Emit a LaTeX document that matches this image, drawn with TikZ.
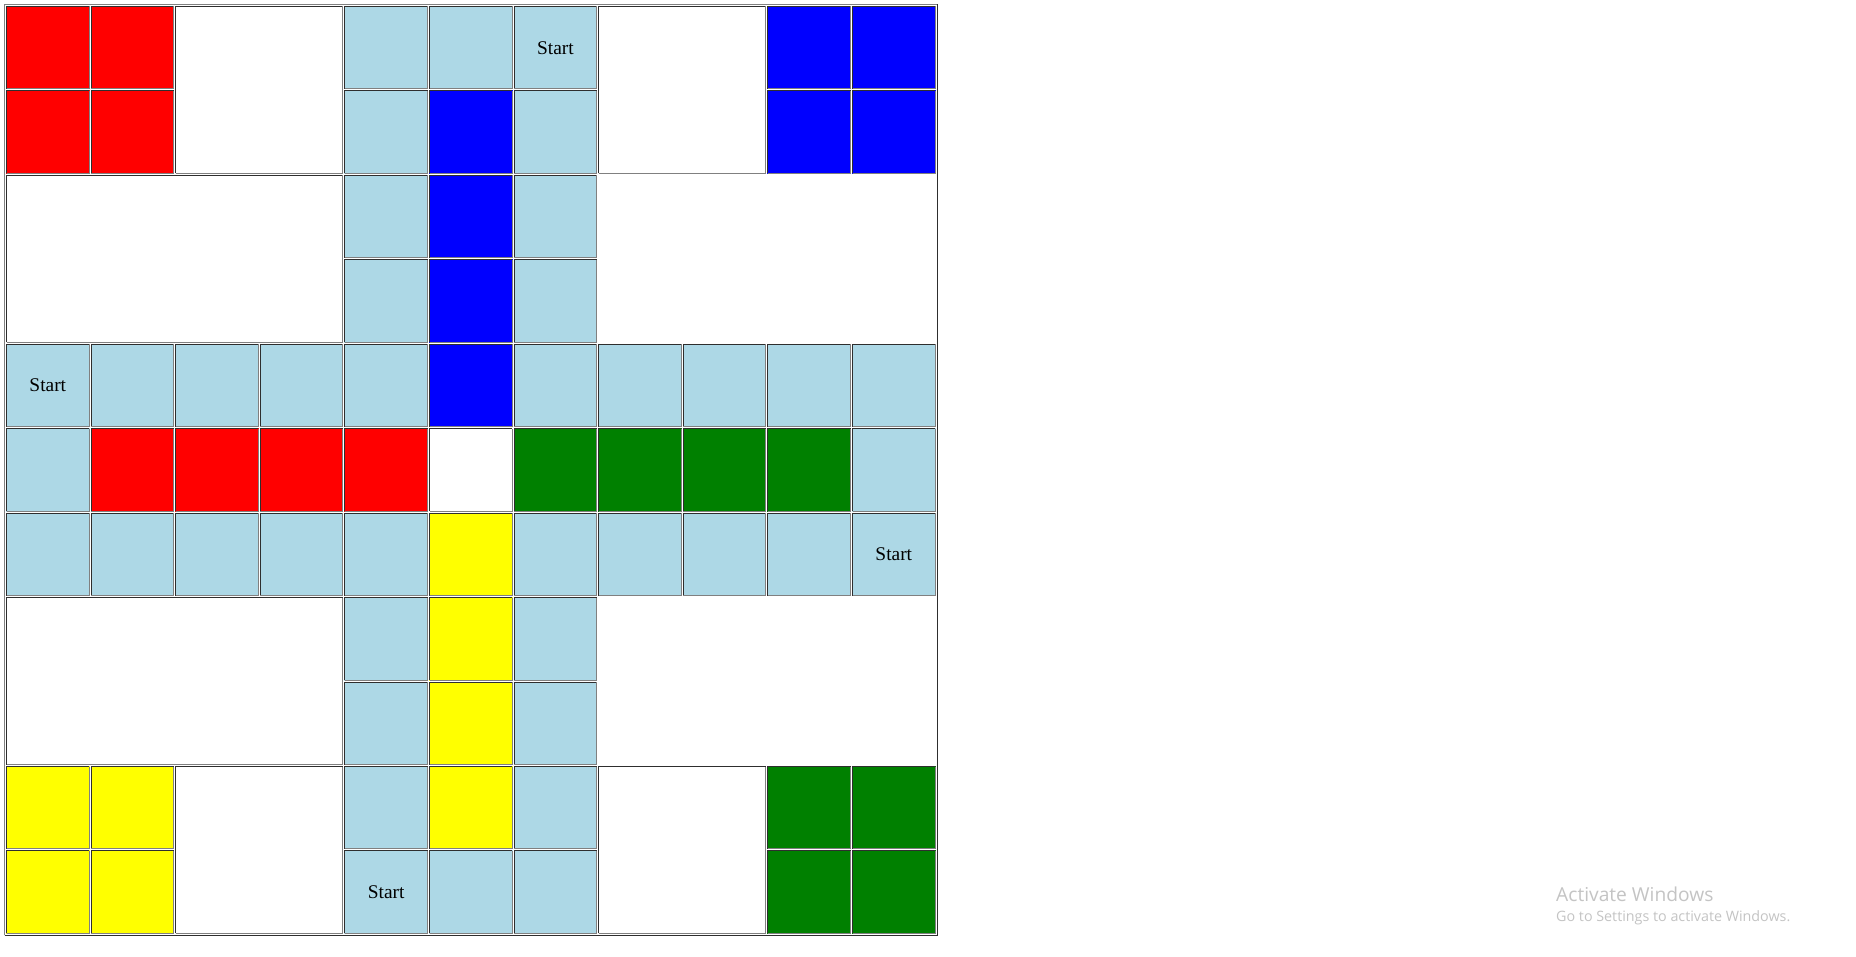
\documentclass[tikz,border=0pt]{standalone}
\usepackage{fontspec}
\setmainfont{Liberation Serif}
\newfontfamily\wmfont{Open Sans}
\definecolor{lb}{HTML}{ADD8E6}
\definecolor{gr}{HTML}{008000}
\definecolor{rd}{HTML}{FF0000}
\definecolor{bl}{HTML}{0000FF}
\definecolor{yl}{HTML}{FFFF00}
\definecolor{dk}{HTML}{2E2E2E}
\definecolor{lt}{HTML}{808080}
\definecolor{wm}{HTML}{C4C4C4}
\tikzset{
  cellst/.style={rectangle, inner sep=0pt, outer sep=0pt, draw=none, font=\fontsize{19.4}{23}\selectfont},
  dkline/.style={draw=dk, line width=1pt},
  ltline/.style={draw=lt, line width=1pt},
}
\newcommand\cellbox[7]{%
  \pgfmathsetmacro\cbX{6+84.6*#2}%
  \pgfmathsetmacro\cbY{957-(6+84.45*#3)}%
  \pgfmathsetmacro\cbW{84.6*#4-1}%
  \pgfmathsetmacro\cbH{84.45*#5-1}%
  \node[cellst, fill=#6, minimum width=\cbW pt, minimum height=\cbH pt, anchor=north west] (#1) at (\cbX,\cbY) {#7};
  \draw[dkline] ([xshift=.5pt,yshift=.5pt]#1.south west) |- ([xshift=-.5pt,yshift=-.5pt]#1.north east);
  \draw[ltline] ([xshift=.5pt,yshift=.5pt]#1.south west) -| ([xshift=-.5pt,yshift=-.5pt]#1.north east);
}
\newcommand\cl[3]{\cellbox{c#1-#2}{#1}{#2}{1}{1}{#3}{}}
\begin{document}
\begin{tikzpicture}[x=1pt,y=1pt]
\useasboundingbox[fill=white] (0,0) rectangle (1856,957);
% outer table border
\coordinate (tbsw) at (4.5,957-935.5);
\coordinate (tbne) at (937.5,957-4.5);
\draw[ltline] (tbsw) |- (tbne);
\draw[dkline] (tbsw) -| (tbne);
% row 0
\cl{0}{0}{rd}\cl{1}{0}{rd}
\cellbox{wTL}{2}{0}{2}{2}{white}{}
\cl{4}{0}{lb}\cl{5}{0}{lb}
\cellbox{s1}{6}{0}{1}{1}{lb}{Start}
\cellbox{wTR}{7}{0}{2}{2}{white}{}
\cl{9}{0}{bl}\cl{10}{0}{bl}
% row 1
\cl{0}{1}{rd}\cl{1}{1}{rd}
\cl{4}{1}{lb}\cl{5}{1}{bl}\cl{6}{1}{lb}
\cl{9}{1}{bl}\cl{10}{1}{bl}
% row 2-3
\cellbox{wML}{0}{2}{4}{2}{white}{}
\cl{4}{2}{lb}\cl{5}{2}{bl}\cl{6}{2}{lb}
\cl{4}{3}{lb}\cl{5}{3}{bl}\cl{6}{3}{lb}
% row 4
\cellbox{s2}{0}{4}{1}{1}{lb}{Start}
\cl{1}{4}{lb}\cl{2}{4}{lb}\cl{3}{4}{lb}\cl{4}{4}{lb}
\cl{5}{4}{bl}
\cl{6}{4}{lb}\cl{7}{4}{lb}\cl{8}{4}{lb}\cl{9}{4}{lb}\cl{10}{4}{lb}
% row 5
\cl{0}{5}{lb}
\cl{1}{5}{rd}\cl{2}{5}{rd}\cl{3}{5}{rd}\cl{4}{5}{rd}
\cl{5}{5}{white}
\cl{6}{5}{gr}\cl{7}{5}{gr}\cl{8}{5}{gr}\cl{9}{5}{gr}
\cl{10}{5}{lb}
% row 6
\cl{0}{6}{lb}\cl{1}{6}{lb}\cl{2}{6}{lb}\cl{3}{6}{lb}\cl{4}{6}{lb}
\cl{5}{6}{yl}
\cl{6}{6}{lb}\cl{7}{6}{lb}\cl{8}{6}{lb}\cl{9}{6}{lb}
\cellbox{s3}{10}{6}{1}{1}{lb}{Start}
% row 7-8
\cellbox{wBL}{0}{7}{4}{2}{white}{}
\cl{4}{7}{lb}\cl{5}{7}{yl}\cl{6}{7}{lb}
\cl{4}{8}{lb}\cl{5}{8}{yl}\cl{6}{8}{lb}
% row 9
\cl{0}{9}{yl}\cl{1}{9}{yl}
\cellbox{wBM}{2}{9}{2}{2}{white}{}
\cl{4}{9}{lb}\cl{5}{9}{yl}\cl{6}{9}{lb}
\cellbox{wBR}{7}{9}{2}{2}{white}{}
\cl{9}{9}{gr}\cl{10}{9}{gr}
% row 10
\cl{0}{10}{yl}\cl{1}{10}{yl}
\cellbox{s4}{4}{10}{1}{1}{lb}{Start}
\cl{5}{10}{lb}\cl{6}{10}{lb}
\cl{9}{10}{gr}\cl{10}{10}{gr}
% watermark
\node[anchor=base west, inner sep=0pt, text=wm, font=\wmfont\fontsize{19.2}{23}\selectfont] (wm1) at (1556,957-901.7) {Activate Windows};
\node[anchor=base west, inner sep=0pt, text=wm, font=\wmfont\fontsize{14.3}{17}\selectfont] (wm2) at (1556,957-921.2) {Go to Settings to activate Windows.};
\end{tikzpicture}
\end{document}
